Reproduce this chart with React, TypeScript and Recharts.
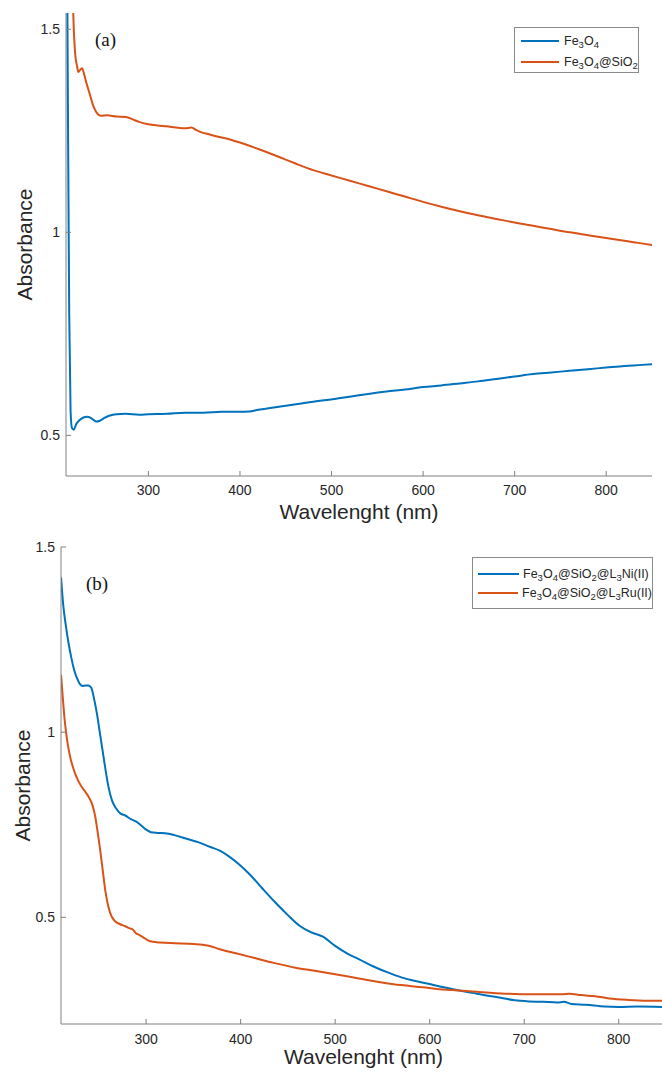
import { LineChart, Line, XAxis, YAxis, Legend } from 'recharts'

// panel (a): Fe3O4 / Fe3O4@SiO2
const feNm = [210, 212, 213.5, 215, 216.5, 218.5, 221, 225, 229, 233, 237, 240, 243, 247, 252, 258, 265, 275, 290, 300, 320, 340, 360, 380, 400, 410, 420, 435, 450, 465, 480, 495, 510, 525, 540, 560, 580, 600, 620, 640, 660, 680, 700, 720, 740, 760, 780, 800, 820, 835, 850]
const feAbs = [2.2, 1.35, 0.8, 0.56, 0.518, 0.514, 0.527, 0.538, 0.544, 0.546, 0.543, 0.538, 0.534, 0.536, 0.543, 0.549, 0.552, 0.553, 0.551, 0.552, 0.553, 0.556, 0.556, 0.558, 0.558, 0.559, 0.563, 0.568, 0.573, 0.578, 0.583, 0.587, 0.592, 0.597, 0.602, 0.608, 0.613, 0.619, 0.623, 0.628, 0.633, 0.639, 0.645, 0.651, 0.655, 0.659, 0.663, 0.667, 0.671, 0.673, 0.675]

const feSiNm = [210, 214, 217, 218.5, 220, 222, 223.5, 225.5, 227.5, 229.5, 232, 236, 240, 244, 248, 255, 265, 275, 285, 290, 300, 310, 320, 330, 340, 347, 352, 358, 365, 375, 390, 400, 420, 440, 460, 480, 500, 520, 540, 560, 580, 600, 620, 640, 660, 680, 700, 720, 740, 760, 780, 800, 820, 835, 850]
const feSiAbs = [2.2, 1.9, 1.6, 1.5, 1.44, 1.41, 1.395, 1.4, 1.404, 1.392, 1.37, 1.34, 1.31, 1.293, 1.287, 1.288, 1.285, 1.284, 1.276, 1.272, 1.266, 1.263, 1.261, 1.258, 1.256, 1.258, 1.252, 1.246, 1.242, 1.236, 1.228, 1.221, 1.205, 1.188, 1.17, 1.153, 1.14, 1.127, 1.114, 1.101, 1.088, 1.075, 1.063, 1.052, 1.042, 1.033, 1.024, 1.016, 1.008, 1.0, 0.993, 0.986, 0.979, 0.974, 0.969]

// panel (b): Ni(II) / Ru(II) complexes
const niNm = [210, 212.5, 215, 218, 221, 224, 227, 230, 233, 236, 239, 242, 245, 248, 251, 254, 257, 260, 264, 268, 273, 278, 284, 290, 295, 300, 305, 312, 320, 330, 343, 355, 368, 378, 388, 397, 410, 423, 436, 450, 462, 475, 487, 500, 513, 526, 540, 555, 570, 585, 600, 615, 630, 645, 660, 675, 690, 705, 720, 735, 742, 750, 765, 785, 800, 820, 850]
const niAbs = [1.418, 1.34, 1.29, 1.24, 1.2, 1.167, 1.145, 1.13, 1.125, 1.126, 1.126, 1.12, 1.09, 1.05, 1.0, 0.95, 0.9, 0.855, 0.815, 0.795, 0.78, 0.775, 0.765, 0.758, 0.748, 0.737, 0.73, 0.728, 0.727, 0.722, 0.712, 0.703, 0.69, 0.68, 0.664, 0.646, 0.615, 0.578, 0.542, 0.506, 0.478, 0.459, 0.448, 0.423, 0.402, 0.386, 0.368, 0.352, 0.338, 0.328, 0.32, 0.311, 0.303, 0.296, 0.289, 0.283, 0.276, 0.273, 0.272, 0.27, 0.272, 0.266, 0.264, 0.259, 0.258, 0.259, 0.258]

const ruNm = [210, 212, 214, 217, 220, 224, 228, 232, 236, 240, 243, 246, 248.5, 251, 254, 257, 260, 263, 267, 272, 278, 283, 286, 289, 293, 297, 302, 307, 315, 330, 350, 365, 378, 395, 415, 435, 458, 480, 503, 525, 548, 570, 593, 610, 624, 650, 680, 710, 740, 748, 760, 775, 790, 810, 830, 850]
const ruAbs = [1.155, 1.09, 1.03, 0.97, 0.93, 0.895, 0.87, 0.852, 0.838, 0.822, 0.805, 0.775, 0.735, 0.69, 0.63, 0.57, 0.53, 0.505, 0.49, 0.482, 0.476, 0.47, 0.467, 0.458, 0.452, 0.446, 0.438, 0.434, 0.432, 0.43, 0.428, 0.424, 0.414, 0.403, 0.39, 0.377, 0.364, 0.355, 0.345, 0.335, 0.325, 0.317, 0.311, 0.306, 0.304, 0.299, 0.294, 0.292, 0.292, 0.294, 0.29, 0.287, 0.281, 0.277, 0.275, 0.275]

const xTicks = [300, 400, 500, 600, 700, 800]
const yTicks = [0.5, 1, 1.5]

const BLUE = '#0072BD'
const ORANGE = '#D95319'
const AXIS = '#808080'
const TEXT = '#262626'
const FONT = '"Liberation Sans", Arial, Helvetica, sans-serif'
const SERIF = '"Liberation Serif", "Times New Roman", serif'

const toRows = (nm: number[], abs: number[]) => nm.map((x, i) => ({ nm: x, abs: abs[i] }))

// digits in a formula are drawn as subscripts
const Formula = ({ text }: { text: string }) => (
	<span>
		{text.split(/(\d)/).map((p, i) =>
			i % 2 === 1 ? (
				<span key={i} style={{ fontSize: 9.5, position: 'relative', top: 3 }}>
					{p}
				</span>
			) : (
				<span key={i}>{p}</span>
			)
		)}
	</span>
)

type Box = { left: number; top: number; width: number; height: number; pad: number; row: number; line: number; inset: number; gap: number }

const legendContent = (box: Box) => (props: any) => (
	<div
		style={{
			boxSizing: 'border-box',
			width: box.width,
			height: box.height,
			border: '1px solid #8a8a8a',
			background: '#fff',
			paddingTop: box.pad,
			fontFamily: FONT,
			fontSize: 12.5,
			color: TEXT,
			whiteSpace: 'nowrap',
		}}
	>
		{(props.payload || []).map((p: any) => (
			<div key={p.value} style={{ display: 'flex', alignItems: 'center', height: box.row, paddingLeft: box.inset }}>
				<span style={{ display: 'inline-block', width: box.line, height: 2, background: p.color, marginRight: box.gap }} />
				<Formula text={p.value} />
			</div>
		))}
	</div>
)

type Series = { name: string; color: string; rows: { nm: number; abs: number }[] }

type PanelProps = {
	width: number
	height: number
	margin: { top: number; right: number; left: number; bottom: number }
	yDomain: [number, number]
	yWidth: number
	yLabelOffset: number
	xTickMargin: number
	xLabelOffset: number
	series: Series[]
	box: Box
}

const Panel = ({ width, height, margin, yDomain, yWidth, yLabelOffset, xTickMargin, xLabelOffset, series, box }: PanelProps) => {
	const tick = { fill: TEXT, fontSize: 14, fontFamily: FONT }
	return (
		<LineChart width={width} height={height} margin={margin}>
			<XAxis
				dataKey="nm"
				type="number"
				domain={[210, 850]}
				ticks={xTicks}
				interval={0}
				allowDataOverflow
				height={45}
				tickSize={-5}
				tickMargin={xTickMargin}
				axisLine={{ stroke: AXIS }}
				tickLine={{ stroke: AXIS }}
				tick={tick}
				label={{ value: 'Wavelenght (nm)', position: 'insideBottom', offset: xLabelOffset, fill: TEXT, fontSize: 21, fontFamily: FONT }}
			/>
			<XAxis xAxisId="top" orientation="top" dataKey="nm" type="number" domain={[210, 850]} ticks={xTicks} interval={0} allowDataOverflow height={0} tickSize={-5} tick={false} axisLine={{ stroke: AXIS }} tickLine={{ stroke: AXIS }} />
			<YAxis
				type="number"
				domain={yDomain}
				ticks={yTicks}
				interval={0}
				allowDataOverflow
				width={yWidth}
				tickSize={-5}
				tickMargin={11}
				axisLine={{ stroke: AXIS }}
				tickLine={{ stroke: AXIS }}
				tick={tick}
				label={{ value: 'Absorbance', angle: -90, position: 'insideLeft', offset: yLabelOffset, fill: TEXT, fontSize: 21, fontFamily: FONT, style: { textAnchor: 'middle' } }}
			/>
			<YAxis yAxisId="right" orientation="right" type="number" domain={yDomain} ticks={yTicks} interval={0} allowDataOverflow width={0} tickSize={-5} tick={false} axisLine={{ stroke: AXIS }} tickLine={{ stroke: AXIS }} />
			{series.map((s) => (
				<Line
					key={s.name}
					data={s.rows}
					dataKey="abs"
					name={s.name}
					type="monotone"
					stroke={s.color}
					strokeWidth={2}
					dot={false}
					isAnimationActive={false}
				/>
			))}
			<Legend
				layout="vertical"
				align="center"
				verticalAlign="middle"
				content={legendContent(box)}
				wrapperStyle={{ left: box.left, top: box.top, width: box.width, height: box.height }}
			/>
		</LineChart>
	)
}

const App = () => {
	return (
		<div style={{ position: 'absolute', left: 0, top: 0, width: 662, height: 1073, overflow: 'hidden', background: '#fff' }}>
			<div style={{ position: 'absolute', left: 0, top: 0 }}>
				<Panel
					width={662}
					height={530}
					margin={{ top: 13, right: 10, left: 6, bottom: 9 }}
					yDomain={[0.4, 1.54]}
					yWidth={60}
					yLabelOffset={19}
					xTickMargin={14}
					xLabelOffset={2}
					series={[
						{ name: 'Fe3O4', color: BLUE, rows: toRows(feNm, feAbs) },
						{ name: 'Fe3O4@SiO2', color: ORANGE, rows: toRows(feSiNm, feSiAbs) },
					]}
					box={{ left: 514, top: 27, width: 125, height: 46, pad: 2, row: 21, line: 38, inset: 6, gap: 5 }}
				/>
			</div>
			<div style={{ position: 'absolute', left: 0, top: 535 }}>
				<Panel
					width={672}
					height={538}
					margin={{ top: 12, right: 6, left: 6, bottom: 4 }}
					yDomain={[0.212, 1.5]}
					yWidth={55}
					yLabelOffset={17}
					xTickMargin={15}
					xLabelOffset={5}
					series={[
						{ name: 'Fe3O4@SiO2@L3Ni(II)', color: BLUE, rows: toRows(niNm, niAbs) },
						{ name: 'Fe3O4@SiO2@L3Ru(II)', color: ORANGE, rows: toRows(ruNm, ruAbs) },
					]}
					box={{ left: 472, top: 22, width: 181, height: 52, pad: 6, row: 19, line: 41, inset: 5, gap: 4 }}
				/>
			</div>
			<div style={{ position: 'absolute', left: 95, top: 29, fontFamily: SERIF, fontSize: 19, lineHeight: '22px', color: '#111' }}>(a)</div>
			<div style={{ position: 'absolute', left: 86, top: 573, fontFamily: SERIF, fontSize: 19, lineHeight: '22px', color: '#111' }}>(b)</div>
		</div>
	)
}

export default App
